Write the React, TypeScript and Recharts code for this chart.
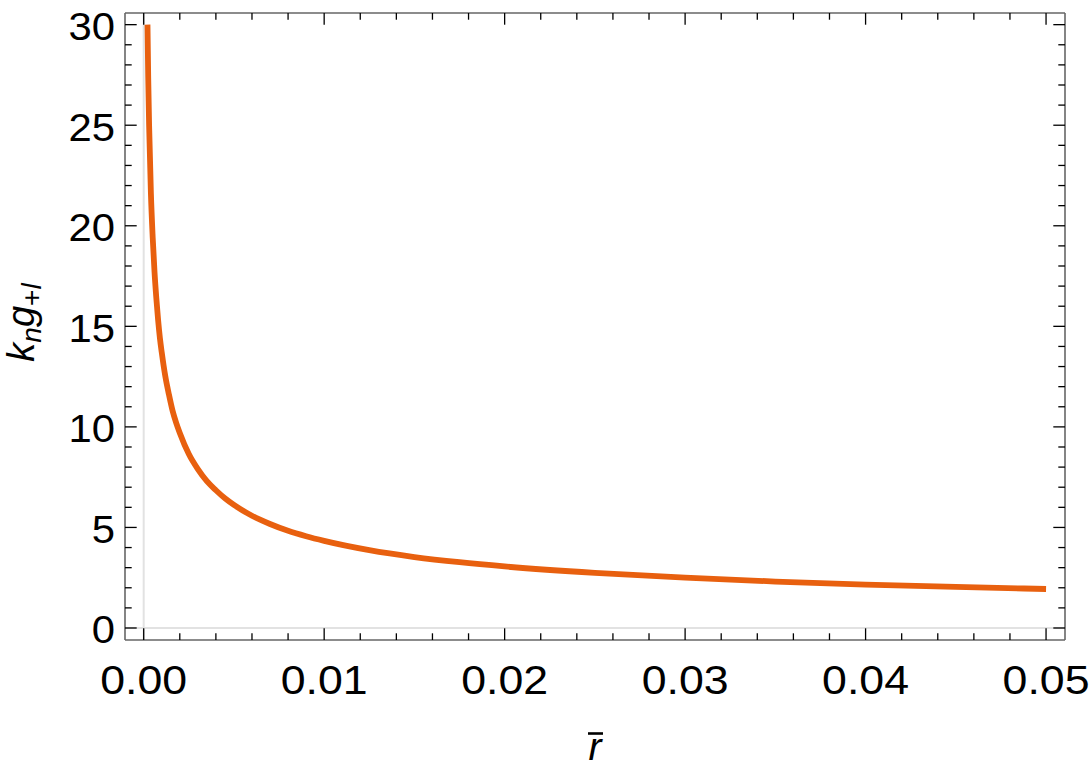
import React from 'react';
import { LineChart, Line, XAxis, YAxis, ReferenceLine } from 'recharts';

// r-bar values (x) and k_n g_{+l} values (y)
const rValues = [0.00021, 0.00025, 0.0003, 0.0004, 0.0005, 0.0006, 0.0007, 0.0008, 0.0009, 0.001, 0.0012, 0.0014, 0.0016, 0.0018, 0.002, 0.0025, 0.003, 0.0035, 0.004, 0.0045, 0.005, 0.006, 0.007, 0.008, 0.009, 0.01, 0.0125, 0.015, 0.0175, 0.02, 0.025, 0.03, 0.035, 0.04, 0.045, 0.05];
const kgValues = [30.0, 27.4, 25.0, 21.6, 19.4, 17.7, 16.4, 15.3, 14.4, 13.7, 12.5, 11.6, 10.8, 10.2, 9.7, 8.65, 7.9, 7.3, 6.85, 6.45, 6.12, 5.58, 5.17, 4.83, 4.56, 4.33, 3.87, 3.53, 3.27, 3.06, 2.74, 2.5, 2.31, 2.16, 2.04, 1.94];

const xTicks = [0, 0.002, 0.004, 0.006, 0.008, 0.01, 0.012, 0.014, 0.016, 0.018, 0.02, 0.022, 0.024, 0.026, 0.028, 0.03, 0.032, 0.034, 0.036, 0.038, 0.04, 0.042, 0.044, 0.046, 0.048, 0.05];
const xMajorTicks = [0, 0.01, 0.02, 0.03, 0.04, 0.05];
const xTickLabels = ['0.00', '0.01', '0.02', '0.03', '0.04', '0.05'];

const yTicks = [0, 1, 2, 3, 4, 5, 6, 7, 8, 9, 10, 11, 12, 13, 14, 15, 16, 17, 18, 19, 20, 21, 22, 23, 24, 25, 26, 27, 28, 29, 30];
const yMajorTicks = [0, 5, 10, 15, 20, 25, 30];
const yTickLabels = ['0', '5', '10', '15', '20', '25', '30'];

const xDomain = [-0.001036, 0.05105];
const yDomain = [-0.597, 30.58];

const data = rValues.map((r, i) => ({ r, kg: kgValues[i] }));

const FONT = '"Liberation Sans", Arial, Helvetica, sans-serif';
const MAJOR = 11.7;
const MINOR = 6.7;
const TICK_COLOR = '#000';
const FRAME = { stroke: '#666', strokeWidth: 1.6 };

const majorIndex = (v: number, majors: number[]) =>
  majors.findIndex((m) => Math.abs(m - v) < 1e-9);

const BottomTick = (props: any) => {
  const { x, y, payload } = props;
  const idx = majorIndex(payload.value, xMajorTicks);
  const len = idx >= 0 ? MAJOR : MINOR;
  return (
    <g>
      <line x1={x} y1={y} x2={x} y2={y - len} stroke={TICK_COLOR} strokeWidth={1.3} />
      {idx >= 0 && (
        <text
          transform={`translate(${x},${y + 54}) scale(1.09,1)`}
          textAnchor="middle"
          fontSize={41}
          fontFamily={FONT}
          fill="#000"
        >
          {xTickLabels[idx]}
        </text>
      )}
    </g>
  );
};

const TopTick = (props: any) => {
  const { x, y, payload } = props;
  const idx = majorIndex(payload.value, xMajorTicks);
  const len = idx >= 0 ? MAJOR : MINOR;
  return <line x1={x} y1={y} x2={x} y2={y + len} stroke={TICK_COLOR} strokeWidth={1.3} />;
};

const LeftTick = (props: any) => {
  const { x, y, payload } = props;
  const idx = majorIndex(payload.value, yMajorTicks);
  const len = idx >= 0 ? MAJOR : MINOR;
  return (
    <g>
      <line x1={x} y1={y} x2={x + len} y2={y} stroke={TICK_COLOR} strokeWidth={1.3} />
      {idx >= 0 && (
        <text
          transform={`translate(${x - 10},${y + 15.5}) scale(1.1,1)`}
          textAnchor="end"
          fontSize={38}
          fontFamily={FONT}
          fill="#000"
        >
          {yTickLabels[idx]}
        </text>
      )}
    </g>
  );
};

const RightTick = (props: any) => {
  const { x, y, payload } = props;
  const idx = majorIndex(payload.value, yMajorTicks);
  const len = idx >= 0 ? MAJOR : MINOR;
  return <line x1={x} y1={y} x2={x - len} y2={y} stroke={TICK_COLOR} strokeWidth={1.3} />;
};

const XTitle = (props: any) => {
  const vb = props.viewBox || { x: 125, y: 640, width: 940, height: 135 };
  const cx = vb.x + vb.width / 2;
  return (
    <g>
      <text
        x={cx}
        y={vb.y + 120}
        textAnchor="middle"
        fontSize={39}
        fontStyle="italic"
        fontFamily={FONT}
        fill="#000"
      >
        r
      </text>
      <line x1={cx - 7} y1={vb.y + 93.5} x2={cx + 8} y2={vb.y + 93.5} stroke="#000" strokeWidth={2.6} />
    </g>
  );
};

const YTitle = (props: any) => {
  const vb = props.viewBox || { x: 0, y: 13, width: 125, height: 627 };
  const bx = vb.x + 34;
  const cy = vb.y + vb.height / 2 - 4;
  return (
    <text
      transform={`rotate(-90, ${bx}, ${cy})`}
      x={bx}
      y={cy}
      textAnchor="middle"
      fontSize={38}
      fontStyle="italic"
      fontFamily={FONT}
      fill="#000"
    >
      k
      <tspan fontSize={28} dy={7}>n</tspan>
      <tspan dy={-7}>g</tspan>
      <tspan fontSize={28} dy={7} fontStyle="normal">+</tspan>
      <tspan fontSize={28}>l</tspan>
    </text>
  );
};

export default function App() {
  return (
    <div style={{ position: 'absolute', left: 0, top: 0, width: 1090, height: 775, background: '#fff' }}>
      <LineChart width={1090} height={775} data={data} margin={{ top: 12, right: 24, bottom: 0, left: 0 }}>
        <XAxis
          xAxisId="b"
          dataKey="r"
          type="number"
          domain={xDomain}
          allowDataOverflow
          ticks={xTicks}
          interval={0}
          height={135}
          tickSize={0}
          tickMargin={0}
          tickLine={false}
          axisLine={FRAME}
          tick={BottomTick}
          label={{ content: XTitle }}
        />
        <XAxis
          xAxisId="t"
          orientation="top"
          dataKey="r"
          type="number"
          domain={xDomain}
          allowDataOverflow
          ticks={xTicks}
          interval={0}
          height={1}
          tickSize={0}
          tickMargin={0}
          tickLine={false}
          axisLine={FRAME}
          tick={TopTick}
        />
        <YAxis
          yAxisId="l"
          type="number"
          domain={yDomain}
          allowDataOverflow
          ticks={yTicks}
          interval={0}
          width={125}
          tickSize={0}
          tickMargin={0}
          tickLine={false}
          axisLine={FRAME}
          tick={LeftTick}
          label={{ content: YTitle }}
        />
        <YAxis
          yAxisId="r"
          orientation="right"
          type="number"
          domain={yDomain}
          allowDataOverflow
          ticks={yTicks}
          interval={0}
          width={1}
          tickSize={0}
          tickMargin={0}
          tickLine={false}
          axisLine={FRAME}
          tick={RightTick}
        />
        <ReferenceLine xAxisId="b" yAxisId="l" x={0} stroke="#e2e2e2" strokeWidth={2} />
        <ReferenceLine xAxisId="b" yAxisId="l" y={0} stroke="#e2e2e2" strokeWidth={2} />
        <Line
          xAxisId="b"
          yAxisId="l"
          dataKey="kg"
          type="monotone"
          stroke="#E8600F"
          strokeWidth={5.8}
          dot={false}
          activeDot={false}
          isAnimationActive={false}
        />
      </LineChart>
    </div>
  );
}
